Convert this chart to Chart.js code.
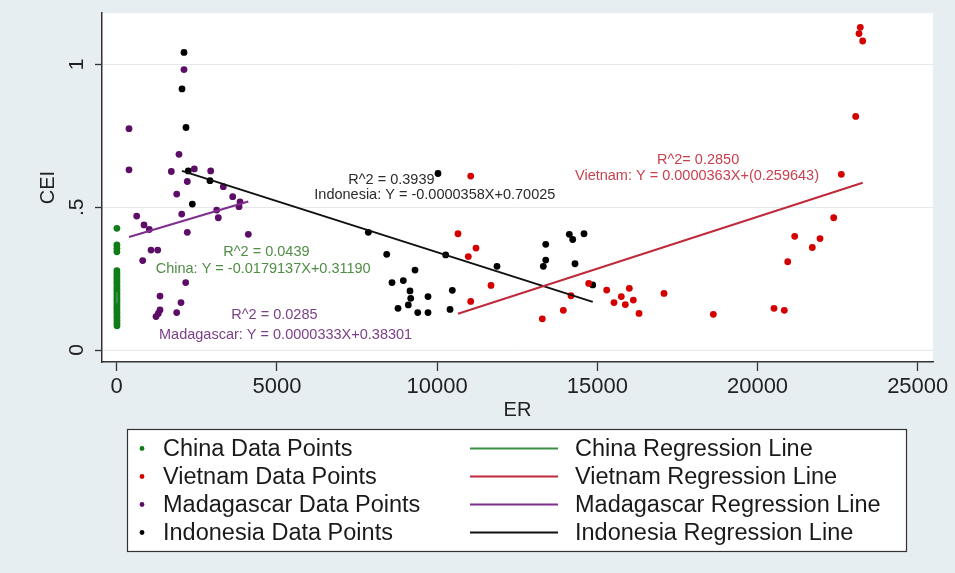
<!DOCTYPE html>
<html>
<head>
<meta charset="utf-8">
<script src="https://cdn.jsdelivr.net/npm/chart.js@4.4.1/dist/chart.umd.min.js"></script>
<style>
  html, body { margin: 0; padding: 0; background: #e6eef2; }
  #wrap { position: relative; width: 955px; height: 573px; }
</style>
</head>
<body>
<div id="wrap"><canvas id="c" width="955" height="573"></canvas></div>
<script>
// ---- data ----------------------------------------------------------------
const countries = ['China', 'Vietnam', 'Madagascar', 'Indonesia'];

const chinaER  = [6.14, 6.19, 6.23, 6.28, 6.31, 6.37, 6.46, 6.52, 6.62, 6.64, 6.75, 6.77, 6.83,
                  6.90, 6.91, 6.96, 6.74, 6.61, 6.45, 6.90, 7.04, 7.60, 7.97, 8.19, 8.28, 8.28];
const chinaCEI = [0.426, 0.368, 0.356, 0.344, 0.278, 0.268, 0.259, 0.250, 0.241, 0.232, 0.222, 0.213, 0.204,
                  0.195, 0.186, 0.177, 0.168, 0.159, 0.150, 0.141, 0.132, 0.123, 0.114, 0.104, 0.094, 0.085];

const vietnamER  = [11049, 10652, 11214, 10974, 11682, 11049, 13283, 13939, 14179, 14732, 15293,
                    15999, 15749, 16124, 15521, 15874, 16302, 17082, 18621, 20515, 20836, 20943,
                    21161, 21710, 21951, 22378, 22616, 23065, 23168, 23208, 23283];
const vietnamCEI = [0.609, 0.407, 0.357, 0.327, 0.226, 0.170, 0.109, 0.139, 0.190, 0.233, 0.210,
                    0.216, 0.187, 0.175, 0.166, 0.159, 0.128, 0.198, 0.125, 0.146, 0.139, 0.309,
                    0.398, 0.359, 0.390, 0.463, 0.615, 0.818, 1.108, 1.130, 1.082];

const madagascarER  = [2100, 384, 1944, 384, 1704, 2422, 2934, 2203, 3327, 1873, 3620, 3848, 3817,
                       2029, 3121, 3171, 624, 852, 1017, 2203, 4107, 1071, 1280, 811, 2154, 1351,
                       2007, 1351, 1298, 1227, 1873];
const madagascarCEI = [0.982, 0.775, 0.685, 0.631, 0.625, 0.634, 0.627, 0.590, 0.572, 0.546, 0.537, 0.519, 0.502,
                       0.476, 0.490, 0.463, 0.469, 0.438, 0.422, 0.412, 0.405, 0.350, 0.350, 0.313, 0.236, 0.189,
                       0.166, 0.140, 0.128, 0.117, 0.131];

const indonesiaER  = [2100, 2038, 2163, 2233, 2912, 2360, 10028, 7853, 8427, 10268, 11869, 9310, 8592,
                      8945, 9154, 9176, 9716, 9101, 8780, 9395, 9716, 10403, 10474, 13390, 13390, 13315,
                      14126, 14232, 14585, 14304, 14857];
const indonesiaCEI = [1.042, 0.914, 0.779, 0.627, 0.593, 0.511, 0.618, 0.412, 0.335, 0.333, 0.293, 0.280, 0.236,
                      0.243, 0.207, 0.181, 0.187, 0.158, 0.146, 0.131, 0.131, 0.142, 0.209, 0.370, 0.315, 0.293,
                      0.405, 0.387, 0.407, 0.302, 0.228];

// fitted lines: Y = slope * X + intercept
const fitSlope     = [-0.0179137, 0.0000363, 0.0000333, -0.0000358];
const fitIntercept = [0.31190, -0.259643, 0.38301, 0.70025];
const fitR2Text    = ['R^2 = 0.0439', 'R^2= 0.2850', 'R^2 = 0.0285', 'R^2 = 0.3939'];
const fitEqText    = ['China: Y = -0.0179137X+0.31190',
                      'Vietnam: Y = 0.0000363X+(0.259643)',
                      'Madagascar: Y = 0.0000333X+0.38301',
                      'Indonesia: Y = -0.0000358X+0.70025'];

const xTickValues = [0, 5000, 10000, 15000, 20000, 25000];
const yTickValues = [0, 0.5, 1];
const yTickText   = ['0', '.5', '1'];

// ---- styling --------------------------------------------------------------
const FONT = "'Liberation Sans', Arial, sans-serif";
const pointColors = ['#0e7d17', '#d40000', '#5c0d66', '#000000'];
const lineColors  = ['#3a8f45', '#bf2a3a', '#7e2f8e', '#111111'];
const noteColors  = ['#4f8d45', '#c8414f', '#7b3f88', '#2b2b2b'];

// where each pair of fit notes sits, in data units (left edge, vertical centre)
const noteLayout = [
  { r2: [3327, 0.344],  eq: [1217, 0.282] },
  { r2: [16863, 0.665], eq: [14304, 0.609] },
  { r2: [3577, 0.1225], eq: [1320, 0.0536] },
  { r2: [7229, 0.595],  eq: [6167, 0.5425] }
];

const ers  = [chinaER, vietnamER, madagascarER, indonesiaER];
const ceis = [chinaCEI, vietnamCEI, madagascarCEI, indonesiaCEI];

const pointSets = countries.map((name, i) => ({
  type: 'scatter',
  label: name + ' Data Points',
  data: ers[i].map((x, k) => ({ x: x, y: ceis[i][k] })),
  backgroundColor: pointColors[i],
  borderColor: pointColors[i],
  borderWidth: 0,
  pointRadius: 3.4,
  pointHoverRadius: 3.4,
  order: 2
}));

const lineSets = countries.map((name, i) => {
  const lo = Math.min(...ers[i]);
  const hi = Math.max(...ers[i]);
  return {
    type: 'line',
    label: name + ' Regression Line',
    data: [lo, hi].map(x => ({ x: x, y: fitSlope[i] * x + fitIntercept[i] })),
    borderColor: lineColors[i],
    backgroundColor: lineColors[i],
    borderWidth: 2,
    pointRadius: 0,
    fill: false,
    tension: 0,
    order: 1
  };
});

// ---- plugins --------------------------------------------------------------
const backdrop = {
  id: 'backdrop',
  beforeDraw(chart) {
    const { ctx, chartArea: a } = chart;
    ctx.save();
    ctx.fillStyle = '#e6eef2';
    ctx.fillRect(0, 0, chart.width, chart.height);
    ctx.fillStyle = '#ffffff';
    ctx.fillRect(a.left, a.top, a.right - a.left, a.bottom - a.top);
    ctx.restore();
  }
};

const yLabels = {
  id: 'yLabels',
  afterDraw(chart) {
    const { ctx } = chart;
    const ys = chart.scales.y;
    ctx.save();
    ctx.fillStyle = '#222';
    ctx.font = '21px ' + FONT;
    ctx.textAlign = 'center';
    ctx.textBaseline = 'middle';
    yTickValues.forEach((v, i) => {
      const py = ys.getPixelForValue(v);
      ctx.save();
      ctx.translate(ys.right - 25, py);
      ctx.rotate(-Math.PI / 2);
      ctx.fillText(yTickText[i], 0, 0);
      ctx.restore();
    });
    ctx.restore();
  }
};

const fitNotes = {
  id: 'fitNotes',
  afterDatasetsDraw(chart) {
    const { ctx } = chart;
    const xs = chart.scales.x, ys = chart.scales.y;
    ctx.save();
    ctx.font = '14.5px ' + FONT;
    ctx.textAlign = 'left';
    ctx.textBaseline = 'middle';
    noteLayout.forEach((n, i) => {
      ctx.fillStyle = noteColors[i];
      ctx.fillText(fitR2Text[i], xs.getPixelForValue(n.r2[0]), ys.getPixelForValue(n.r2[1]));
      ctx.fillText(fitEqText[i], xs.getPixelForValue(n.eq[0]), ys.getPixelForValue(n.eq[1]));
    });
    ctx.restore();
  }
};

const keyBox = {
  id: 'keyBox',
  afterDraw(chart) {
    const { ctx } = chart;
    const box = { left: 127.5, top: 429.5, width: 779, height: 122 };
    const rows = [448.5, 476.5, 504.5, 532.5];
    ctx.save();
    ctx.fillStyle = '#ffffff';
    ctx.fillRect(box.left, box.top, box.width, box.height);
    ctx.strokeStyle = '#333';
    ctx.lineWidth = 1.2;
    ctx.strokeRect(box.left, box.top, box.width, box.height);
    ctx.font = '23.5px ' + FONT;
    ctx.textBaseline = 'middle';
    ctx.textAlign = 'left';
    countries.forEach((c, i) => {
      const ps = chart.data.datasets[i];
      const ls = chart.data.datasets[i + countries.length];
      const y = rows[i];
      ctx.fillStyle = ps.backgroundColor;
      ctx.beginPath();
      ctx.arc(142, y, 2.4, 0, Math.PI * 2);
      ctx.fill();
      ctx.fillStyle = '#1a1a1a';
      ctx.fillText(ps.label, 163, y + 1);
      ctx.strokeStyle = ls.borderColor;
      ctx.lineWidth = 2;
      ctx.beginPath();
      ctx.moveTo(470, y);
      ctx.lineTo(558, y);
      ctx.stroke();
      ctx.fillStyle = '#1a1a1a';
      ctx.fillText(ls.label, 575, y + 1);
    });
    ctx.restore();
  }
};

// ---- chart ---------------------------------------------------------------
new Chart(document.getElementById('c'), {
  type: 'scatter',
  data: { datasets: pointSets.concat(lineSets) },
  options: {
    responsive: false,
    animation: false,
    devicePixelRatio: 1,
    layout: { padding: { left: 0, right: 22, top: 13, bottom: 150 } },
    plugins: { legend: { display: false }, tooltip: { enabled: false } },
    scales: {
      x: {
        type: 'linear',
        min: -459,
        max: 25477,
        afterBuildTicks: s => { s.ticks = xTickValues.map(v => ({ value: v })); },
        afterFit: s => { s.height = 61; },
        grid: { drawOnChartArea: false, drawTicks: true, tickLength: 9, tickColor: '#333', tickWidth: 1.3 },
        border: { display: true, color: '#333', width: 1.5 },
        ticks: {
          padding: 3,
          color: '#222',
          font: { family: FONT, size: 22, lineHeight: 1.2 },
          callback: v => String(v),
          maxRotation: 0,
          autoSkip: false
        },
        title: { display: true, text: 'ER', color: '#222', font: { family: FONT, size: 20, lineHeight: 1.2 }, padding: { top: 0, bottom: 1 } }
      },
      y: {
        type: 'linear',
        min: -0.042,
        max: 1.18,
        afterBuildTicks: s => { s.ticks = yTickValues.map(v => ({ value: v })); },
        afterFit: s => { s.width = 102; },
        grid: { color: '#e3e9ed', lineWidth: 1, drawTicks: true, tickLength: 7, tickColor: '#333', tickWidth: 1.3 },
        border: { display: true, color: '#333', width: 1.5 },
        ticks: { display: false },
        title: { display: true, text: 'CEI', color: '#222', font: { family: FONT, size: 20, lineHeight: 1.2 }, padding: { top: 36 } }
      }
    }
  },
  plugins: [backdrop, fitNotes, yLabels, keyBox]
});
</script>
</body>
</html>
